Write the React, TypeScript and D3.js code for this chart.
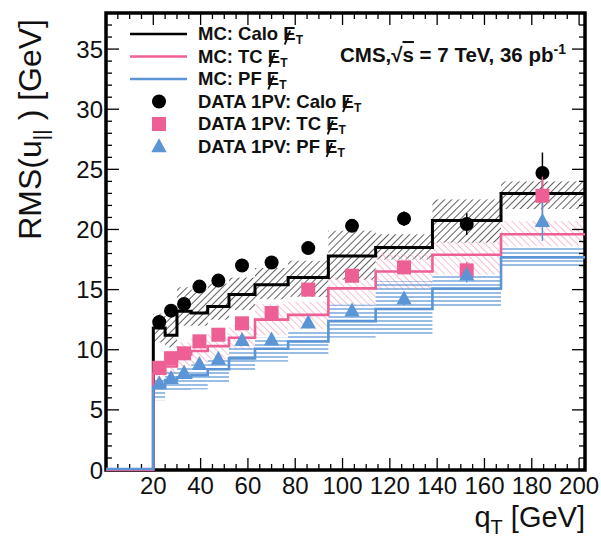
import React, { useLayoutEffect, useRef, useState } from 'react';
import * as d3 from 'd3';

const W = 601, H = 537;
const FR = { left: 106, right: 585, top: 13, bottom: 470 };

// bin edges in qT [GeV]
const BIN_EDGES = [0, 20, 25, 30, 36, 43, 52, 63, 77, 94, 114, 138, 167, 202.5];
// MC central values per bin (first bin 0-20 is empty)
const MC_CALO = [0, 11.8, 11.2, 13.2, 13.05, 13.6, 14.6, 15.4, 16.0, 17.8, 18.5, 20.75, 23.0];
const MC_TC = [0, 8.0, 8.6, 9.6, 9.9, 10.3, 11.0, 12.5, 12.9, 15.1, 16.5, 17.9, 19.6];
const MC_PF = [0, 6.8, 7.4, 7.6, 7.8, 8.3, 9.2, 10.0, 10.6, 12.3, 13.3, 15.0, 17.6];
// MC systematic bands (low/high)
const CALO_LO = [0, 10.6, 10.2, 12.0, 12.0, 12.5, 13.3, 14.2, 14.4, 15.8, 17.5, 18.9, 21.7];
const CALO_HI = [0, 13.0, 12.8, 15.2, 15.0, 15.5, 16.0, 16.8, 17.4, 19.9, 19.6, 22.5, 24.0];
const TC_LO = [0, 7.0, 7.8, 8.6, 8.8, 9.2, 10.0, 11.2, 11.7, 13.6, 15.0, 16.25, 18.6];
const TC_HI = [0, 9.0, 9.6, 10.6, 11.0, 11.4, 12.0, 13.8, 14.0, 16.0, 18.0, 19.0, 20.7];
const PF_LO = [0, 5.8, 6.5, 6.5, 6.7, 7.3, 8.2, 9.0, 9.6, 11.0, 11.25, 13.6, 16.8];
const PF_HI = [0, 7.6, 8.2, 8.6, 8.8, 9.3, 10.2, 11.0, 11.5, 13.75, 15.7, 16.25, 18.6];

// data points
const DATA_QT = [22.5, 27.5, 33, 39.5, 47.5, 57.5, 70, 85.5, 104, 126, 152.5, 184.5];
const DATA_CALO = [12.3, 13.25, 13.8, 15.25, 15.75, 17.0, 17.25, 18.45, 20.3, 20.9, 20.45, 24.7];
const DATA_CALO_ERR = [0.3, 0.3, 0.3, 0.3, 0.3, 0.3, 0.4, 0.4, 0.5, 0.6, 0.9, 1.7];
const DATA_TC = [8.5, 9.3, 9.7, 10.7, 11.25, 12.2, 13.05, 15.0, 16.15, 16.85, 16.6, 22.8];
const DATA_TC_ERR = [0.2, 0.2, 0.2, 0.3, 0.3, 0.3, 0.3, 0.4, 0.5, 0.5, 0.7, 1.6];
const DATA_PF = [7.15, 7.6, 8.05, 8.75, 9.2, 10.75, 10.8, 12.2, 13.2, 14.2, 16.2, 20.65];
const DATA_PF_ERR = [0.2, 0.2, 0.2, 0.3, 0.3, 0.3, 0.3, 0.4, 0.4, 0.5, 0.6, 1.6];

const X_TICKS = [20, 40, 60, 80, 100, 120, 140, 160, 180, 200];
const Y_TICKS = [0, 5, 10, 15, 20, 25, 30, 35];

const BLACK = '#000000';
const PINK = '#ee5f96';
const PINK_HATCH = '#f6a9c5';
const BLUE = '#5b95d6';
const FONT = "'Liberation Sans', Arial, sans-serif";

const x = d3.scaleLinear().domain([0, 202.5]).range([FR.left, FR.right]);
const y = d3.scaleLinear().domain([0, 38]).range([FR.bottom, FR.top]);

function stepPath(vals: number[]) {
  const pts: [number, number][] = vals.map((v, i) => [BIN_EDGES[i], v]);
  pts.push([BIN_EDGES[BIN_EDGES.length - 1], vals[vals.length - 1]]);
  return d3.line<[number, number]>().x(d => x(d[0])).y(d => y(d[1])).curve(d3.curveStepAfter)(pts) || '';
}

function Band({ lo, hi, fill }: { lo: number[]; hi: number[]; fill: string }) {
  return (
    <g>
      {lo.map((l, i) => i === 0 ? null : (
        <rect key={i} x={x(BIN_EDGES[i])} width={x(BIN_EDGES[i + 1]) - x(BIN_EDGES[i])}
          y={y(hi[i])} height={y(l) - y(hi[i])} fill={fill} />
      ))}
    </g>
  );
}

function Met({ x0, y0, prefix, size }: { x0: number; y0: number; prefix: string; size: number }) {
  const ref = useRef<SVGTextElement>(null);
  const [pos, setPos] = useState<{ s: number; w: number } | null>(null);
  useLayoutEffect(() => {
    const el = ref.current;
    if (!el) return;
    try {
      const s = el.getSubStringLength(0, prefix.length);
      const w = el.getSubStringLength(prefix.length, 1);
      setPos({ s, w });
    } catch (e) {
      setPos({ s: prefix.length * size * 0.58, w: size * 0.667 });
    }
  }, [prefix, size]);
  return (
    <g>
      <text ref={ref} x={x0} y={y0} fontFamily={FONT} fontWeight="bold" fontSize={size} fill="#111">
        {prefix + 'E'}
        <tspan dy={4} fontSize={size * 0.65}>T</tspan>
      </text>
      {pos && (
        <line x1={x0 + pos.s + pos.w * 0.12} y1={y0 + 4.5} x2={x0 + pos.s + pos.w * 0.55} y2={y0 - 9.5}
          stroke="#111" strokeWidth={2} />
      )}
    </g>
  );
}

export default function App() {
  const minorX = d3.range(5, 202, 5).filter(v => v % 20 !== 0);
  const minorY = d3.range(1, 38, 1).filter(v => v % 5 !== 0);
  const tri = (cx: number, cy: number, s: number) =>
    `M${cx},${cy - s * 0.62} L${cx + s * 0.55},${cy + s * 0.38} L${cx - s * 0.55},${cy + s * 0.38} Z`;
  return (
    <svg width={W} height={H} style={{ position: 'absolute', left: 0, top: 0, background: '#fff' }}>
      <defs>
        <pattern id="hBlack" patternUnits="userSpaceOnUse" width="5" height="5" patternTransform="rotate(45)">
          <line x1="0" y1="0" x2="0" y2="5" stroke="#444" strokeWidth="1.7" />
        </pattern>
        <pattern id="hPink" patternUnits="userSpaceOnUse" width="5" height="5" patternTransform="rotate(-45)">
          <line x1="0" y1="0" x2="0" y2="5" stroke={PINK_HATCH} strokeWidth="1.5" />
        </pattern>
        <pattern id="hBlue" patternUnits="userSpaceOnUse" width="6" height="4">
          <line x1="0" y1="1" x2="6" y2="1" stroke={BLUE} strokeWidth="1.4" opacity="0.9" />
        </pattern>
      </defs>
      <rect x={0} y={0} width={W} height={H} fill="#fff" />

      <Band lo={CALO_LO} hi={CALO_HI} fill="url(#hBlack)" />
      <Band lo={TC_LO} hi={TC_HI} fill="url(#hPink)" />
      <Band lo={PF_LO} hi={PF_HI} fill="url(#hBlue)" />

      {/* frame ticks */}
      {X_TICKS.map(v => (
        <g key={'xt' + v}>
          <line x1={x(v)} x2={x(v)} y1={FR.bottom} y2={FR.bottom - 12} stroke="#000" strokeWidth={1.3} />
          <line x1={x(v)} x2={x(v)} y1={FR.top} y2={FR.top + 12} stroke="#000" strokeWidth={1.3} />
          <text x={x(v)} y={494} textAnchor="middle" fontFamily={FONT} fontSize={24} fill="#111">{v}</text>
        </g>
      ))}
      {minorX.map(v => (
        <g key={'xm' + v}>
          <line x1={x(v)} x2={x(v)} y1={FR.bottom} y2={FR.bottom - 6} stroke="#000" strokeWidth={1.3} />
          <line x1={x(v)} x2={x(v)} y1={FR.top} y2={FR.top + 6} stroke="#000" strokeWidth={1.3} />
        </g>
      ))}
      {Y_TICKS.map(v => (
        <g key={'yt' + v}>
          <line x1={FR.left} x2={FR.left + 13} y1={y(v)} y2={y(v)} stroke="#000" strokeWidth={1.3} />
          <line x1={FR.right} x2={FR.right - 13} y1={y(v)} y2={y(v)} stroke="#000" strokeWidth={1.3} />
          <text x={103} y={y(v) + 8.5} textAnchor="end" fontFamily={FONT} fontSize={24} fill="#111">{v}</text>
        </g>
      ))}
      {minorY.map(v => (
        <g key={'ym' + v}>
          <line x1={FR.left} x2={FR.left + 6} y1={y(v)} y2={y(v)} stroke="#000" strokeWidth={1.3} />
          <line x1={FR.right} x2={FR.right - 6} y1={y(v)} y2={y(v)} stroke="#000" strokeWidth={1.3} />
        </g>
      ))}
      <rect x={FR.left} y={FR.top} width={FR.right - FR.left} height={FR.bottom - FR.top} fill="none" stroke="#000" strokeWidth={3.5} />

      <path d={stepPath(MC_CALO)} fill="none" stroke={BLACK} strokeWidth={3} />
      <path d={stepPath(MC_TC)} fill="none" stroke={PINK} strokeWidth={2.6} />
      <path d={stepPath(MC_PF)} fill="none" stroke={BLUE} strokeWidth={2.6} transform="translate(0,-1)" />

      {/* data */}
      {DATA_QT.map((q, i) => (
        <g key={'c' + i}>
          <line x1={x(q)} x2={x(q)} y1={y(DATA_CALO[i] - DATA_CALO_ERR[i])} y2={y(DATA_CALO[i] + DATA_CALO_ERR[i])} stroke={BLACK} strokeWidth={1.5} />
          <circle cx={x(q)} cy={y(DATA_CALO[i])} r={7} fill={BLACK} />
        </g>
      ))}
      {DATA_QT.map((q, i) => (
        <g key={'s' + i}>
          <line x1={x(q)} x2={x(q)} y1={y(DATA_TC[i] - DATA_TC_ERR[i])} y2={y(DATA_TC[i] + DATA_TC_ERR[i])} stroke={PINK} strokeWidth={1.5} />
          <rect x={x(q) - 7} y={y(DATA_TC[i]) - 7} width={14} height={14} fill={PINK} />
        </g>
      ))}
      {DATA_QT.map((q, i) => (
        <g key={'t' + i}>
          <line x1={x(q)} x2={x(q)} y1={y(DATA_PF[i] - DATA_PF_ERR[i])} y2={y(DATA_PF[i] + DATA_PF_ERR[i])} stroke={BLUE} strokeWidth={1.5} />
          <path d={tri(x(q), y(DATA_PF[i]), 14)} fill={BLUE} />
        </g>
      ))}

      {/* legend */}
      <line x1={130} x2={187} y1={34} y2={34} stroke={BLACK} strokeWidth={2.6} />
      <line x1={130} x2={187} y1={56.5} y2={56.5} stroke={PINK} strokeWidth={2.6} />
      <line x1={130} x2={187} y1={79} y2={79} stroke={BLUE} strokeWidth={2.6} />
      <circle cx={159} cy={101.5} r={7} fill={BLACK} />
      <rect x={152} y={117} width={14} height={14} fill={PINK} />
      <path d={tri(159, 147, 14)} fill={BLUE} />
      <Met x0={198} y0={40} prefix="MC: Calo " size={18.5} />
      <Met x0={198} y0={62.5} prefix="MC: TC " size={18.5} />
      <Met x0={198} y0={85} prefix="MC: PF " size={18.5} />
      <Met x0={198} y0={107.5} prefix="DATA 1PV: Calo " size={18.5} />
      <Met x0={198} y0={130} prefix="DATA 1PV: TC " size={18.5} />
      <Met x0={198} y0={152.5} prefix="DATA 1PV: PF " size={18.5} />

      <text x={340} y={62} fontFamily={FONT} fontWeight="bold" fontSize={20.5} fill="#111">
        CMS,√<tspan textDecoration="overline">s</tspan> = 7 TeV, 36 pb<tspan dy={-8} fontSize={14}>-1</tspan>
      </text>

      {/* axis titles */}
      <text transform="translate(41,19) rotate(-90)" textAnchor="end" fontFamily={FONT} fontSize={32} fill="#111">
        RMS(u<tspan dy={7} fontSize={21}>||</tspan><tspan dy={-7}>  ) [GeV]</tspan>
      </text>
      <text x={585} y={527} textAnchor="end" fontFamily={FONT} fontSize={29} fill="#111">
        q<tspan dy={7} fontSize={20}>T</tspan><tspan dy={-7}> [GeV]</tspan>
      </text>
    </svg>
  );
}
